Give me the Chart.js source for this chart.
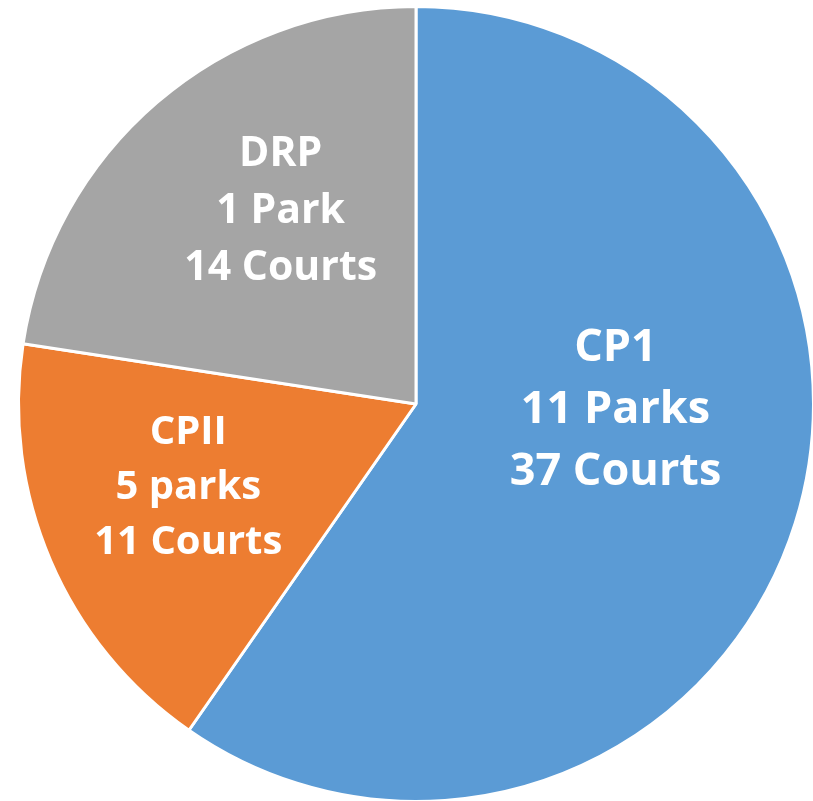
<!DOCTYPE html>
<html>
<head>
<meta charset="utf-8">
<script src="https://cdn.jsdelivr.net/npm/chart.js@4.4.1/dist/chart.umd.min.js"></script>
<style>
  html, body { margin: 0; padding: 0; background: #fff; overflow: hidden; }
  #wrap { width: 834px; height: 812px; }
</style>
</head>
<body>
<div id="wrap"><canvas id="pieChart" width="834" height="812"></canvas></div>
<script>
// slices go clockwise from 12 o'clock
var regions = ["CP1", "CPII", "DRP"];
var parkLines = ["11 Parks", "5 parks", "1 Park"];
var courts = [37, 11, 14];
var colors = ["#5B9BD5", "#ED7D31", "#A5A5A5"];

// where each label sits: angle from top (deg, clockwise), fraction of radius, font size
var labelSpots = [
  { angle: 91.7, frac: 0.502, size: 45, lineH: 62 },
  { angle: 249.9, frac: 0.61, size: 40, lineH: 55 },
  { angle: 324.9, frac: 0.592, size: 41, lineH: 57 }
];

var sliceLabels = {
  id: 'sliceLabels',
  afterDatasetsDraw: function (chart) {
    var ctx = chart.ctx;
    var meta = chart.getDatasetMeta(0);
    meta.data.forEach(function (arc, i) {
      var spot = labelSpots[i];
      var a = spot.angle * Math.PI / 180;
      var r = arc.outerRadius * spot.frac;
      var cx = arc.x + r * Math.sin(a);
      var cy = arc.y - r * Math.cos(a);
      var lines = [regions[i], parkLines[i], courts[i] + " Courts"];
      ctx.save();
      ctx.fillStyle = "#fff";
      ctx.font = "bold " + spot.size + "px 'Open Sans'";
      ctx.textAlign = "center";
      ctx.textBaseline = "middle";
      for (var k = 0; k < lines.length; k++) {
        ctx.fillText(lines[k], cx, cy + (k - 1) * spot.lineH);
      }
      ctx.restore();
    });
  }
};

var ctxP = document.getElementById("pieChart").getContext('2d');
var myPieChart = new Chart(ctxP, {
  type: 'pie',
  data: {
    labels: regions,
    datasets: [{
      data: courts,
      backgroundColor: colors,
      borderColor: "#fff",
      borderWidth: 3
    }]
  },
  options: {
    responsive: false,
    animation: false,
    layout: { padding: { left: 17, right: 19, top: 5, bottom: 9 } },
    plugins: {
      legend: { display: false },
      tooltip: { enabled: false }
    },
    events: []
  },
  plugins: [sliceLabels]
});
</script>
</body>
</html>
